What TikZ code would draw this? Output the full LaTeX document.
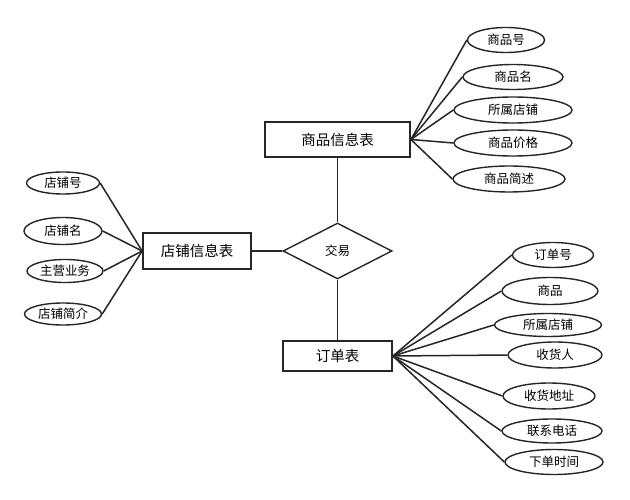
\documentclass[tikz,border=0pt]{standalone}
\usepackage{fontspec}
\setmainfont{Noto Sans CJK SC}
\usetikzlibrary{shapes.geometric}
\begin{document}
\begin{tikzpicture}[x=1pt,y=-1pt,
  ent/.style={draw=black!85,line width=1.8pt,fill=white,inner sep=0pt,font=\fontsize{14.5}{16}\selectfont},
  attr/.style={ellipse,draw=black!85,line width=1.4pt,inner sep=0pt,minimum height=25pt,font=\fontsize{12.5}{14}\selectfont},
  rel/.style={diamond,draw=black!85,line width=1.4pt,inner sep=0pt,font=\fontsize{12.5}{14}\selectfont},
  link/.style={draw=black!85,line width=1.5pt}]
\useasboundingbox[fill=white] (0,0) rectangle (630,500);
% entities
\node[ent,minimum width=145pt,minimum height=35pt] (sp) at (337.5,139.5) {商品信息表};
\node[ent,minimum width=108pt,minimum height=36pt] (dp) at (197,251) {店铺信息表};
\node[ent,minimum width=109pt,minimum height=30pt] (dd) at (337.5,356) {订单表};
\node[rel,minimum width=109pt,minimum height=56pt] (jy) at (337.5,251) {交易};
% product attributes
\node[attr,minimum width=77pt] (a1) at (506,40) {商品号};
\node[attr,minimum width=100pt] (a2) at (513,77) {商品名};
\node[attr,minimum width=118pt,minimum height=26pt] (a3) at (513,110) {所属店铺};
\node[attr,minimum width=118pt,minimum height=26pt] (a4) at (513,143) {商品价格};
\node[attr,minimum width=112pt,minimum height=26pt] (a5) at (509,179) {商品简述};
% shop attributes
\node[attr,minimum width=73pt,minimum height=22pt] (b1) at (63,183) {店铺号};
\node[attr,minimum width=78pt,minimum height=27pt] (b2) at (63,231) {店铺名};
\node[attr,minimum width=76pt,minimum height=23pt] (b3) at (65,271) {主营业务};
\node[attr,minimum width=77pt,minimum height=22pt] (b4) at (63,314) {店铺简介};
% order attributes
\node[attr,minimum width=81pt] (c1) at (553,255) {订单号};
\node[attr,minimum width=96pt,minimum height=27pt] (c2) at (550,291) {商品};
\node[attr,minimum width=107pt,minimum height=23pt] (c3) at (548,325) {所属店铺};
\node[attr,minimum width=94pt,minimum height=26pt] (c4) at (555,355) {收货人};
\node[attr,minimum width=92pt,minimum height=26pt] (c5) at (549,396) {收货地址};
\node[attr,minimum width=100pt,minimum height=24pt] (c6) at (552,431) {联系电话};
\node[attr,minimum width=98pt] (c7) at (554,462) {下单时间};
% connectors
\foreach \n in {a1,a2,a3,a4,a5} \draw[link] (sp.east) -- (\n.west);
\foreach \n in {b1,b2,b3,b4} \draw[link] (\n.east) -- (dp.west);
\foreach \n in {c1,c2,c3,c4,c5,c6,c7} \draw[link] (dd.east) -- (\n.west);
\draw[link] (sp.south) -- (jy.north);
\draw[link] (jy.south) -- (dd.north);
\draw[link] (dp.east) -- (jy.west);
\end{tikzpicture}
\end{document}
